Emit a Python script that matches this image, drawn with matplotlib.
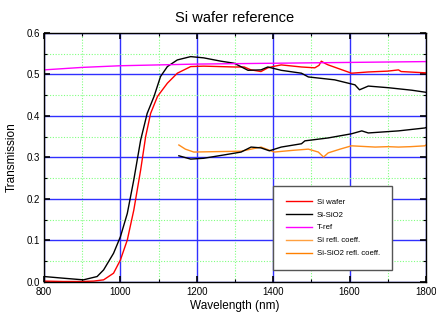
import matplotlib
matplotlib.use("Agg")
import matplotlib.pyplot as plt
from matplotlib.ticker import MultipleLocator

# wavelength (nm) / transmission
si_wl = [800, 850, 900, 930, 956, 982, 1000, 1018, 1035, 1053, 1066, 1079, 1097,
         1123, 1149, 1184, 1218, 1260, 1298, 1324, 1342, 1368, 1386, 1404, 1421, 1474,
         1509, 1520, 1526, 1535, 1544, 1605, 1649, 1700, 1728, 1735, 1797, 1800]
si_t = [0.002, 0.001, 0.001, 0.002, 0.005, 0.021, 0.053, 0.101, 0.173, 0.27, 0.35,
        0.406, 0.447, 0.479, 0.503, 0.519, 0.52, 0.519, 0.518, 0.518, 0.511, 0.507,
        0.516, 0.52, 0.523, 0.518, 0.516, 0.522, 0.532, 0.527, 0.523, 0.503, 0.506,
        0.508, 0.511, 0.507, 0.504, 0.504]

sio2_wl = [800, 850, 903, 921, 939, 956, 982, 1000, 1018, 1035, 1053, 1070, 1088, 1105,
           1123, 1149, 1184, 1218, 1263, 1298, 1334, 1368, 1386, 1421, 1474, 1492, 1561,
           1614, 1626, 1649, 1702, 1763, 1800]
sio2_t = [0.013, 0.009, 0.005, 0.009, 0.013, 0.029, 0.069, 0.109, 0.165, 0.246, 0.342,
          0.406, 0.447, 0.495, 0.519, 0.535, 0.543, 0.54, 0.532, 0.527, 0.51, 0.511,
          0.518, 0.51, 0.503, 0.494, 0.487, 0.475, 0.463, 0.472, 0.468, 0.462, 0.457]

ref_wl = [800, 900, 1000, 1100, 1200, 1400, 1600, 1800]
ref_t = [0.511, 0.517, 0.521, 0.523, 0.525, 0.527, 0.529, 0.531]

refl_wl = [1153, 1170, 1192, 1250, 1316, 1368, 1403, 1450, 1492, 1518, 1532, 1544, 1575,
           1605, 1667, 1700, 1728, 1760, 1797, 1800]
refl_t = [0.33, 0.32, 0.313, 0.314, 0.315, 0.325, 0.313, 0.317, 0.32, 0.313, 0.301,
          0.311, 0.32, 0.328, 0.325, 0.326, 0.325, 0.326, 0.328, 0.33]

refl2_wl = [1153, 1184, 1218, 1271, 1316, 1342, 1368, 1390, 1421, 1474, 1483, 1544, 1605,
            1632, 1649, 1728, 1797, 1800]
refl2_t = [0.304, 0.296, 0.298, 0.306, 0.313, 0.325, 0.323, 0.316, 0.325, 0.333, 0.34,
           0.347, 0.357, 0.364, 0.359, 0.364, 0.371, 0.372]

labels = ["Si wafer", "Si-SiO2", "T-ref", "Si refl. coeff.", "Si-SiO2 refl. coeff."]

sans = ["Liberation Sans", "DejaVu Sans"]

fig = plt.figure(figsize=(4.36, 3.2), dpi=100)
ax = fig.add_axes([0.101, 0.119, 0.876, 0.778])

l1, = ax.plot(si_wl, si_t, color="#ff0000", lw=1)
l2, = ax.plot(sio2_wl, sio2_t, color="black", lw=1)
l3, = ax.plot(ref_wl, ref_t, color="#ff00ff", lw=1)
l4, = ax.plot(refl_wl, refl_t, color="#ff8c1a", lw=1)
l5, = ax.plot(refl2_wl, refl2_t, color="black", lw=1)

ax.set_xlim(800, 1800)
ax.set_ylim(0, 0.6)
ax.xaxis.set_major_locator(MultipleLocator(200))
ax.xaxis.set_minor_locator(MultipleLocator(100))
ax.yaxis.set_major_locator(MultipleLocator(0.1))
ax.yaxis.set_minor_locator(MultipleLocator(0.05))
ax.set_yticklabels([f"{v:.1f}" for v in ax.get_yticks()])

ax.grid(which="major", color="#3030ff", lw=1)
ax.grid(which="minor", color="#80ff80", lw=0.8, ls=(0, (1, 1.5)))
ax.set_axisbelow(True)

ax.tick_params(which="both", direction="in", top=True, right=True, colors="black")
ax.tick_params(which="major", length=4, width=1.2, labelsize=7)
ax.tick_params(axis="x", which="major", pad=4)
ax.tick_params(axis="y", which="major", pad=3)
ax.tick_params(which="minor", length=2.5, width=0.8)
for t in ax.get_xticklabels() + ax.get_yticklabels():
    t.set_family(sans)
for s in ax.spines.values():
    s.set_linewidth(1)

ax.set_title("Si wafer reference", fontsize=10.5, family=sans, pad=8)
ax.set_xlabel("Wavelength (nm)", fontsize=8.5, family=sans, labelpad=2)
ax.set_ylabel("Transmission", fontsize=8.5, family=sans, labelpad=6)

leg = ax.legend([l1, l2, l3, l4, l5], labels, loc="upper left",
                bbox_to_anchor=(0.6, 0.386),
                fancybox=False, edgecolor="#555555", framealpha=1,
                prop={"family": sans, "size": 5.6}, handlelength=3.4,
                labelspacing=0.7, borderpad=1.6, handletextpad=0.6,
                borderaxespad=0)
leg.get_frame().set_linewidth(1)
leg.get_lines()[3].set_color("#ffa040")
leg.get_lines()[4].set_color("#ff8000")

fig.savefig("out.png", dpi=100)
